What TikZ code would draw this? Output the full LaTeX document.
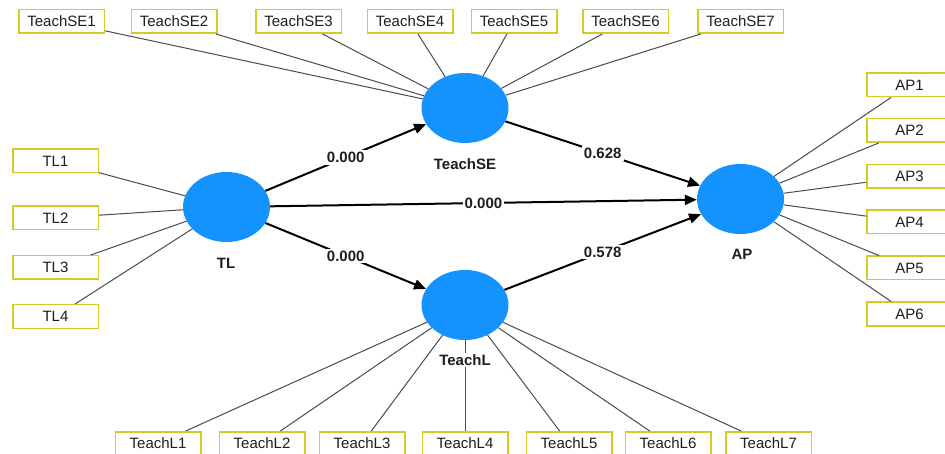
\documentclass[tikz,border=0pt]{standalone}
\usepackage{fontspec}
\setmainfont{Liberation Sans}
\usetikzlibrary{shapes.geometric,arrows.meta}
\definecolor{lvblue}{RGB}{20,147,255}
\definecolor{boxyel}{RGB}{208,204,40}
\definecolor{ldgray}{RGB}{75,75,75}
\definecolor{txt}{RGB}{30,30,30}
\begin{document}
\begin{tikzpicture}[x=1pt,y=-1pt,
 lv/.style={ellipse,fill=lvblue,minimum width=87pt,minimum height=70pt,inner sep=0pt},
 ind/.style={draw=boxyel,line width=1.5pt,fill=white,minimum width=85.5pt,minimum height=23.5pt,inner sep=0pt,font=\fontsize{15}{17}\selectfont,text=txt},
 lvlab/.style={font=\bfseries\fontsize{15}{17}\selectfont,text=txt,fill=white,inner sep=1.5pt},
 load/.style={draw=ldgray,line width=1pt},
 pathar/.style={draw=black,line width=2pt,-{Triangle[length=12pt,width=10pt]}},
 coef/.style={font=\bfseries\fontsize{15}{17}\selectfont,text=txt,fill=white,inner sep=2pt}]
\useasboundingbox (0,0) rectangle (945,454);
\clip (0,0) rectangle (945,454);
\fill[white] (0,0) rectangle (945,454);

% latent variables
\node[lv] (TL) at (226.5,207) {};
\node[lv] (SE) at (465,108) {};
\node[lv] (TCL) at (465,305) {};
\node[lv] (AP) at (740.5,199) {};

% indicators TeachSE
\node[ind] (se1) at (61.5,21.5) {TeachSE1};
\node[ind] (se2) at (174,21.5) {TeachSE2};
\node[ind] (se3) at (298.5,21.5) {TeachSE3};
\node[ind] (se4) at (410,21.5) {TeachSE4};
\node[ind] (se5) at (514,21.5) {TeachSE5};
\node[ind] (se6) at (625.5,21.5) {TeachSE6};
\node[ind] (se7) at (740.5,21.5) {TeachSE7};

% indicators TL
\node[ind] (tl1) at (55.5,161) {TL1};
\node[ind] (tl2) at (55.5,218) {TL2};
\node[ind] (tl3) at (55.5,267.5) {TL3};
\node[ind] (tl4) at (55.5,316.5) {TL4};

% indicators AP
\node[ind] (ap1) at (909.5,85) {AP1};
\node[ind] (ap2) at (909.5,130.5) {AP2};
\node[ind] (ap3) at (909.5,176.5) {AP3};
\node[ind] (ap4) at (909.5,222) {AP4};
\node[ind] (ap5) at (909.5,268) {AP5};
\node[ind] (ap6) at (909.5,314) {AP6};

% indicators TeachL
\node[ind] (l1) at (158,443.5) {TeachL1};
\node[ind] (l2) at (262,443.5) {TeachL2};
\node[ind] (l3) at (362,443.5) {TeachL3};
\node[ind] (l4) at (465,443.5) {TeachL4};
\node[ind] (l5) at (569,443.5) {TeachL5};
\node[ind] (l6) at (668,443.5) {TeachL6};
\node[ind] (l7) at (768.5,443.5) {TeachL7};

% loadings
\foreach \i in {se1,se2,se3,se4,se5,se6,se7} \draw[load] (\i) -- (SE);
\foreach \i in {tl1,tl2,tl3,tl4} \draw[load] (\i) -- (TL);
\foreach \i in {ap1,ap2,ap3,ap4,ap5,ap6} \draw[load] (AP) -- (\i);
\foreach \i in {l1,l2,l3,l4,l5,l6,l7} \draw[load] (TCL) -- (\i);

% labels
\node[lvlab] (labTL) at (226,263) {TL};
\node[lvlab] (labSE) at (465,164) {TeachSE};
\node[lvlab] (labTCL) at (465,360) {TeachL};
\node[lvlab] (labAP) at (742,254) {AP};

% structural paths
\draw[pathar] (TL) -- node[coef] {0.000} (SE);
\draw[pathar] (TL) -- node[coef] {0.000} (AP);
\draw[pathar] (TL) -- node[coef] {0.000} (TCL);
\draw[pathar] (SE) -- node[coef] {0.628} (AP);
\draw[pathar] (TCL) -- node[coef] {0.578} (AP);
\end{tikzpicture}
\end{document}
